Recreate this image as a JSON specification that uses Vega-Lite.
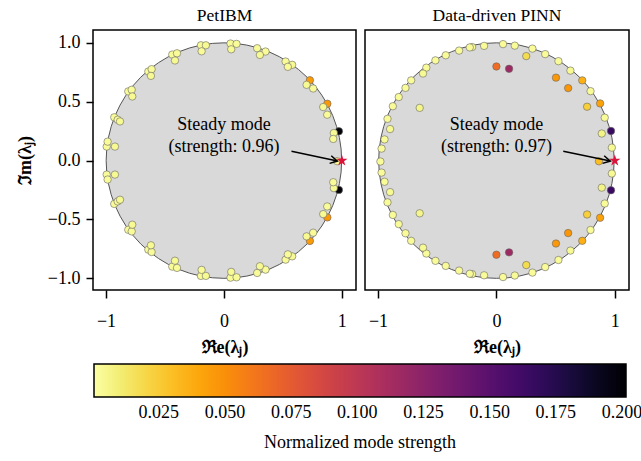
{
  "$schema": "https://vega.github.io/schema/vega-lite/v6.json",
  "padding": {"left": 15, "top": 5, "right": 5, "bottom": 5},
  "background": "white",
  "config": {
    "font": "Liberation Serif",
    "view": {"stroke": "black", "strokeWidth": 1.5},
    "axis": {"labelFont": "Liberation Serif", "titleFont": "Liberation Serif", "labelFontSize": 18, "titleFontSize": 18, "labelColor": "black", "titleColor": "black", "tickColor": "black", "tickWidth": 1.5, "tickSize": 7, "labelPadding": 6, "grid": false, "domain": false, "titleFontWeight": "bold"},
    "title": {"font": "Liberation Serif", "fontSize": 17.5, "fontWeight": "normal", "color": "black", "offset": 6},
    "legend": {"labelFont": "Liberation Serif", "titleFont": "Liberation Serif", "labelFontSize": 18, "titleFontSize": 18, "labelColor": "black", "titleColor": "black", "titleLimit": 600}
  },
  "datasets": {
    "petibm": [
      {"x": 0.96, "y": -0.005, "s": 0.004},
      {"x": 0.975, "y": 0.249, "s": 0.2}, {"x": 0.932, "y": 0.234, "s": 0.004}, {"x": 0.927, "y": 0.184, "s": 0.003},
      {"x": 0.877, "y": 0.483, "s": 0.046}, {"x": 0.842, "y": 0.455, "s": 0.004}, {"x": 0.876, "y": 0.39, "s": 0.003},
      {"x": 0.729, "y": 0.683, "s": 0.045}, {"x": 0.701, "y": 0.644, "s": 0.004}, {"x": 0.757, "y": 0.613, "s": 0.003},
      {"x": 0.523, "y": 0.842, "s": 0.003}, {"x": 0.579, "y": 0.814, "s": 0.004}, {"x": 0.542, "y": 0.797, "s": 0.003},
      {"x": 0.282, "y": 0.955, "s": 0.003}, {"x": 0.353, "y": 0.927, "s": 0.003}, {"x": 0.305, "y": 0.898, "s": 0.004},
      {"x": 0.056, "y": 0.995, "s": 0.003}, {"x": 0.107, "y": 0.992, "s": 0.003}, {"x": 0.062, "y": 0.946, "s": 0.004},
      {"x": -0.195, "y": 0.98, "s": 0.003}, {"x": -0.153, "y": 0.98, "s": 0.004}, {"x": -0.189, "y": 0.929, "s": 0.003},
      {"x": -0.438, "y": 0.901, "s": 0.003}, {"x": -0.398, "y": 0.912, "s": 0.003}, {"x": -0.415, "y": 0.851, "s": 0.004},
      {"x": -0.641, "y": 0.757, "s": 0.003}, {"x": -0.613, "y": 0.777, "s": 0.003}, {"x": -0.619, "y": 0.72, "s": 0.004},
      {"x": -0.811, "y": 0.588, "s": 0.003}, {"x": -0.782, "y": 0.602, "s": 0.003}, {"x": -0.777, "y": 0.545, "s": 0.004},
      {"x": -0.93, "y": 0.368, "s": 0.003}, {"x": -0.901, "y": 0.347, "s": 0.003}, {"x": -0.881, "y": 0.333, "s": 0.004},
      {"x": -0.994, "y": 0.119, "s": 0.003}, {"x": -0.924, "y": 0.119, "s": 0.004}, {"x": -0.986, "y": 0.161, "s": 0.003},
      {"x": 0.975, "y": -0.249, "s": 0.2}, {"x": 0.932, "y": -0.234, "s": 0.004}, {"x": 0.927, "y": -0.184, "s": 0.003},
      {"x": 0.877, "y": -0.483, "s": 0.046}, {"x": 0.842, "y": -0.455, "s": 0.004}, {"x": 0.876, "y": -0.39, "s": 0.003},
      {"x": 0.729, "y": -0.683, "s": 0.045}, {"x": 0.701, "y": -0.644, "s": 0.004}, {"x": 0.757, "y": -0.613, "s": 0.003},
      {"x": 0.523, "y": -0.842, "s": 0.003}, {"x": 0.579, "y": -0.814, "s": 0.004}, {"x": 0.542, "y": -0.797, "s": 0.003},
      {"x": 0.282, "y": -0.955, "s": 0.003}, {"x": 0.353, "y": -0.927, "s": 0.003}, {"x": 0.305, "y": -0.898, "s": 0.004},
      {"x": 0.056, "y": -0.995, "s": 0.003}, {"x": 0.107, "y": -0.992, "s": 0.003}, {"x": 0.062, "y": -0.946, "s": 0.004},
      {"x": -0.195, "y": -0.98, "s": 0.003}, {"x": -0.153, "y": -0.98, "s": 0.004}, {"x": -0.189, "y": -0.929, "s": 0.003},
      {"x": -0.438, "y": -0.901, "s": 0.003}, {"x": -0.398, "y": -0.912, "s": 0.003}, {"x": -0.415, "y": -0.851, "s": 0.004},
      {"x": -0.641, "y": -0.757, "s": 0.003}, {"x": -0.613, "y": -0.777, "s": 0.003}, {"x": -0.619, "y": -0.72, "s": 0.004},
      {"x": -0.811, "y": -0.588, "s": 0.003}, {"x": -0.782, "y": -0.602, "s": 0.003}, {"x": -0.777, "y": -0.545, "s": 0.004},
      {"x": -0.93, "y": -0.368, "s": 0.003}, {"x": -0.901, "y": -0.347, "s": 0.003}, {"x": -0.881, "y": -0.333, "s": 0.004},
      {"x": -0.994, "y": -0.119, "s": 0.003}, {"x": -0.924, "y": -0.119, "s": 0.004}, {"x": -0.986, "y": -0.161, "s": 0.003}
    ],
    "pinn": [
      {"x": -0.98, "y": -0.008, "s": 0.003}, {"x": 0.866, "y": -0.006, "s": 0.03},
      {"x": 0.056, "y": 0.99, "s": 0.003}, {"x": 0.155, "y": 0.977, "s": 0.003}, {"x": 0.304, "y": 0.952, "s": 0.003},
      {"x": 0.412, "y": 0.905, "s": 0.003}, {"x": 0.524, "y": 0.845, "s": 0.003}, {"x": 0.625, "y": 0.765, "s": 0.004},
      {"x": 0.795, "y": 0.59, "s": 0.003}, {"x": 0.915, "y": 0.365, "s": 0.003}, {"x": 0.975, "y": 0.11, "s": 0.004},
      {"x": -0.104, "y": 0.975, "s": 0.003}, {"x": -0.205, "y": 0.965, "s": 0.003}, {"x": -0.225, "y": 0.962, "s": 0.003},
      {"x": -0.315, "y": 0.935, "s": 0.003}, {"x": -0.428, "y": 0.895, "s": 0.003}, {"x": -0.515, "y": 0.852, "s": 0.003},
      {"x": -0.592, "y": 0.79, "s": 0.003}, {"x": -0.62, "y": 0.74, "s": 0.004}, {"x": -0.72, "y": 0.682, "s": 0.003},
      {"x": -0.768, "y": 0.618, "s": 0.003}, {"x": -0.825, "y": 0.54, "s": 0.003}, {"x": -0.875, "y": 0.462, "s": 0.003},
      {"x": -0.92, "y": 0.355, "s": 0.003}, {"x": -0.898, "y": 0.268, "s": 0.004}, {"x": -0.945, "y": 0.18, "s": 0.003},
      {"x": -0.97, "y": 0.102, "s": 0.003}, {"x": -0.648, "y": 0.448, "s": 0.006},
      {"x": 0.252, "y": 0.888, "s": 0.018}, {"x": 0.89, "y": 0.23, "s": 0.007}, {"x": 0.766, "y": 0.458, "s": 0.024},
      {"x": 0.503, "y": 0.705, "s": 0.046}, {"x": 0.606, "y": 0.616, "s": 0.047}, {"x": 0.725, "y": 0.682, "s": 0.036},
      {"x": 0.876, "y": 0.486, "s": 0.042}, {"x": 0.968, "y": 0.252, "s": 0.165}, {"x": 0.0, "y": 0.8, "s": 0.066},
      {"x": 0.107, "y": 0.78, "s": 0.116},
      {"x": 0.056, "y": -0.99, "s": 0.003}, {"x": 0.155, "y": -0.977, "s": 0.003}, {"x": 0.304, "y": -0.952, "s": 0.003},
      {"x": 0.412, "y": -0.905, "s": 0.003}, {"x": 0.524, "y": -0.845, "s": 0.003}, {"x": 0.625, "y": -0.765, "s": 0.004},
      {"x": 0.795, "y": -0.59, "s": 0.003}, {"x": 0.915, "y": -0.365, "s": 0.003}, {"x": 0.975, "y": -0.11, "s": 0.004},
      {"x": -0.104, "y": -0.975, "s": 0.003}, {"x": -0.205, "y": -0.965, "s": 0.003}, {"x": -0.225, "y": -0.962, "s": 0.003},
      {"x": -0.315, "y": -0.935, "s": 0.003}, {"x": -0.428, "y": -0.895, "s": 0.003}, {"x": -0.515, "y": -0.852, "s": 0.003},
      {"x": -0.592, "y": -0.79, "s": 0.003}, {"x": -0.62, "y": -0.74, "s": 0.004}, {"x": -0.72, "y": -0.682, "s": 0.003},
      {"x": -0.768, "y": -0.618, "s": 0.003}, {"x": -0.825, "y": -0.54, "s": 0.003}, {"x": -0.875, "y": -0.462, "s": 0.003},
      {"x": -0.92, "y": -0.355, "s": 0.003}, {"x": -0.898, "y": -0.268, "s": 0.004}, {"x": -0.945, "y": -0.18, "s": 0.003},
      {"x": -0.97, "y": -0.102, "s": 0.003}, {"x": -0.648, "y": -0.448, "s": 0.006},
      {"x": 0.252, "y": -0.888, "s": 0.018}, {"x": 0.89, "y": -0.23, "s": 0.007}, {"x": 0.766, "y": -0.458, "s": 0.024},
      {"x": 0.503, "y": -0.705, "s": 0.046}, {"x": 0.606, "y": -0.616, "s": 0.047}, {"x": 0.725, "y": -0.682, "s": 0.036},
      {"x": 0.876, "y": -0.486, "s": 0.042}, {"x": 0.968, "y": -0.252, "s": 0.165}, {"x": 0.0, "y": -0.8, "s": 0.066},
      {"x": 0.107, "y": -0.78, "s": 0.116}
    ]
  },
  "hconcat": [
    {
      "title": "PetIBM",
      "width": 263,
      "height": 260,
      "layer": [
        {"data": {"values": [{"x": 0, "y": 0}]}, "mark": {"type": "point", "shape": "circle", "filled": true, "fill": "#d9d9d9", "fillOpacity": 1, "stroke": "#555555", "strokeWidth": 1, "size": 55460, "opacity": 1},
         "encoding": {
           "x": {"field": "x", "type": "quantitative", "scale": {"domain": [-1.11, 1.12], "nice": false, "zero": false}, "axis": {"values": [-1, 0, 1], "format": "d", "title": "ℜe(λⱼ)", "tickSize": 8, "labelPadding": 14, "titlePadding": 8}},
           "y": {"field": "y", "type": "quantitative", "scale": {"domain": [-1.1, 1.11], "nice": false, "zero": false}, "axis": {"values": [-1, -0.5, 0, 0.5, 1], "format": ".1f", "title": "ℑm(λⱼ)", "titlePadding": 13}}}},
        {"data": {"name": "petibm"}, "mark": {"type": "point", "shape": "circle", "filled": true, "size": 55, "stroke": "#666666", "strokeWidth": 0.6, "opacity": 1},
         "encoding": {"x": {"field": "x", "type": "quantitative"}, "y": {"field": "y", "type": "quantitative"},
           "color": {"field": "s", "type": "quantitative", "scale": {"scheme": "inferno", "reverse": true, "domain": [0.0005, 0.2015]},
             "legend": {"orient": "none", "direction": "horizontal", "legendX": 1, "legendY": 334, "gradientLength": 532, "gradientThickness": 33, "gradientStrokeColor": "black", "gradientStrokeWidth": 1.5, "values": [0.025, 0.05, 0.075, 0.1, 0.125, 0.15, 0.175, 0.2], "format": ".3f", "labelOffset": 7, "labelAlign": "center", "title": "Normalized mode strength", "titleOrient": "bottom", "titleAnchor": "middle", "titleFontWeight": "normal", "titlePadding": 12, "titleLimit": 600}}}},
        {"data": {"values": [{"x": 0.573, "y": 0.079, "x2": 0.962, "y2": -0.004}]}, "mark": {"type": "rule", "color": "black", "strokeWidth": 1.5}, "encoding": {"x": {"field": "x", "type": "quantitative"}, "y": {"field": "y", "type": "quantitative"}, "x2": {"field": "x2"}, "y2": {"field": "y2"}}},
        {"data": {"values": [{"x": 1.0, "y": 0.0}]}, "mark": {"type": "point", "shape": "M0,-1L0.225,-0.309L0.951,-0.309L0.363,0.118L0.588,0.809L0,0.382L-0.588,0.809L-0.363,0.118L-0.951,-0.309L-0.225,-0.309Z", "filled": true, "color": "#dc143c", "size": 144, "opacity": 1}, "encoding": {"x": {"field": "x", "type": "quantitative"}, "y": {"field": "y", "type": "quantitative"}}},
        {"data": {"values": [{"x": 0.962, "y": -0.004}]}, "mark": {"type": "point", "shape": "M -1 -0.55 L 0 0 L -1 0.55", "filled": false, "stroke": "black", "strokeWidth": 1.5, "size": 200, "angle": 12, "opacity": 1}, "encoding": {"x": {"field": "x", "type": "quantitative"}, "y": {"field": "y", "type": "quantitative"}}},
        {"data": {"values": [{"x": 0.0, "y": 0.305, "t": "Steady mode"}, {"x": 0.0, "y": 0.116, "t": "(strength: 0.96)"}]}, "mark": {"type": "text", "font": "Liberation Serif", "fontSize": 18, "color": "black", "align": "center", "baseline": "middle"}, "encoding": {"x": {"field": "x", "type": "quantitative"}, "y": {"field": "y", "type": "quantitative"}, "text": {"field": "t"}}}
      ]
    },
    {
      "title": "Data-driven PINN",
      "width": 264,
      "height": 260,
      "layer": [
        {"data": {"values": [{"x": 0, "y": 0}]}, "mark": {"type": "point", "shape": "circle", "filled": true, "fill": "#d9d9d9", "fillOpacity": 1, "stroke": "#555555", "strokeWidth": 1, "size": 55460, "opacity": 1},
         "encoding": {
           "x": {"field": "x", "type": "quantitative", "scale": {"domain": [-1.11, 1.12], "nice": false, "zero": false}, "axis": {"values": [-1, 0, 1], "format": "d", "title": "ℜe(λⱼ)", "tickSize": 8, "labelPadding": 14, "titlePadding": 8}},
           "y": {"field": "y", "type": "quantitative", "scale": {"domain": [-1.1, 1.11], "nice": false, "zero": false}, "axis": null}}},
        {"data": {"name": "pinn"}, "mark": {"type": "point", "shape": "circle", "filled": true, "size": 55, "stroke": "#666666", "strokeWidth": 0.6, "opacity": 1},
         "encoding": {"x": {"field": "x", "type": "quantitative"}, "y": {"field": "y", "type": "quantitative"},
           "color": {"field": "s", "type": "quantitative", "scale": {"scheme": "inferno", "reverse": true, "domain": [0.0005, 0.2015]},
             "legend": {"orient": "none", "direction": "horizontal", "legendX": 1, "legendY": 334, "gradientLength": 532, "gradientThickness": 33, "gradientStrokeColor": "black", "gradientStrokeWidth": 1.5, "values": [0.025, 0.05, 0.075, 0.1, 0.125, 0.15, 0.175, 0.2], "format": ".3f", "labelOffset": 7, "labelAlign": "center", "title": "Normalized mode strength", "titleOrient": "bottom", "titleAnchor": "middle", "titleFontWeight": "normal", "titlePadding": 12, "titleLimit": 600}}}},
        {"data": {"values": [{"x": 0.565, "y": 0.079, "x2": 0.962, "y2": -0.004}]}, "mark": {"type": "rule", "color": "black", "strokeWidth": 1.5}, "encoding": {"x": {"field": "x", "type": "quantitative"}, "y": {"field": "y", "type": "quantitative"}, "x2": {"field": "x2"}, "y2": {"field": "y2"}}},
        {"data": {"values": [{"x": 1.0, "y": 0.0}]}, "mark": {"type": "point", "shape": "M0,-1L0.225,-0.309L0.951,-0.309L0.363,0.118L0.588,0.809L0,0.382L-0.588,0.809L-0.363,0.118L-0.951,-0.309L-0.225,-0.309Z", "filled": true, "color": "#dc143c", "size": 144, "opacity": 1}, "encoding": {"x": {"field": "x", "type": "quantitative"}, "y": {"field": "y", "type": "quantitative"}}},
        {"data": {"values": [{"x": 0.962, "y": -0.004}]}, "mark": {"type": "point", "shape": "M -1 -0.55 L 0 0 L -1 0.55", "filled": false, "stroke": "black", "strokeWidth": 1.5, "size": 200, "angle": 12, "opacity": 1}, "encoding": {"x": {"field": "x", "type": "quantitative"}, "y": {"field": "y", "type": "quantitative"}}},
        {"data": {"values": [{"x": 0.0, "y": 0.305, "t": "Steady mode"}, {"x": 0.0, "y": 0.116, "t": "(strength: 0.97)"}]}, "mark": {"type": "text", "font": "Liberation Serif", "fontSize": 18, "color": "black", "align": "center", "baseline": "middle"}, "encoding": {"x": {"field": "x", "type": "quantitative"}, "y": {"field": "y", "type": "quantitative"}, "text": {"field": "t"}}}
      ]
    }
  ],
  "spacing": 7,
  "resolve": {"scale": {"color": "shared"}, "legend": {"color": "shared"}}
}
